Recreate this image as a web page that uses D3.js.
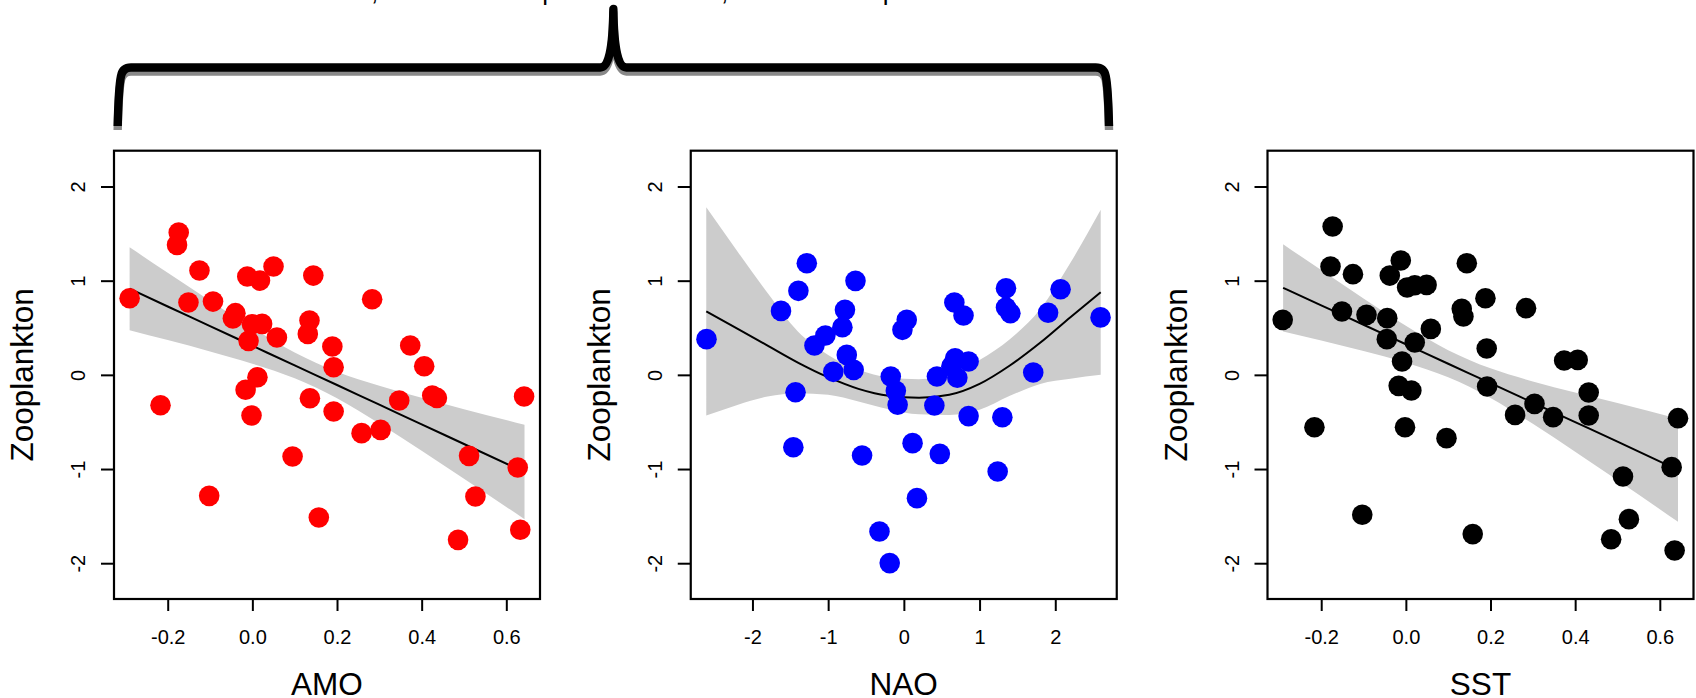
<!DOCTYPE html>
<html>
<head>
<meta charset="utf-8">
<script src="https://cdn.jsdelivr.net/npm/d3@7"></script>
<style>
  body { margin: 0; background: #fff; }
  svg { display: block; }
</style>
</head>
<body>
<script>
// ---- data ----
// AMO panel (red, linear fit)
const amoX = [-0.290, -0.217, -0.178, -0.174, -0.151, -0.125, -0.102, -0.093, -0.040, -0.046, -0.016, -0.012, -0.002, -0.009, -0.001, 0.012, 0.018, 0.023, 0.050, 0.058, 0.095, 0.131, 0.135, 0.136, 0.144, 0.157, 0.189, 0.192, 0.192, 0.258, 0.283, 0.303, 0.347, 0.373, 0.406, 0.425, 0.436, 0.486, 0.512, 0.527, 0.627, 0.633, 0.642];
const amoY = [0.814, -0.322, 1.380, 1.511, 0.768, 1.108, -1.285, 0.778, 0.655, 0.598, -0.159, 1.044, -0.432, 0.361, 0.538, -0.025, 1.001, 0.541, 1.150, 0.396, -0.867, 0.435, 0.577, -0.248, 1.054, -1.515, 0.301, 0.081, -0.389, -0.619, 0.803, -0.584, -0.272, 0.311, 0.092, -0.220, -0.245, -1.752, -0.860, -1.292, -0.984, -1.645, -0.230];
const amoFitX = [-0.29, -0.2, -0.1, 0, 0.1, 0.2, 0.3, 0.4, 0.5, 0.643];
const amoFit  = [0.914, 0.726, 0.518, 0.309, 0.100, -0.108, -0.317, -0.525, -0.734, -1.032];
const amoLo   = [0.474, 0.369, 0.249, 0.119, -0.037, -0.249, -0.517, -0.807, -1.104, -1.532];
const amoHi   = [1.354, 1.084, 0.787, 0.499, 0.237, 0.033, -0.117, -0.244, -0.364, -0.531];

// NAO panel (blue, smooth fit)
const naoX = [-2.607, -1.623, -1.460, -1.431, -1.393, -1.282, -1.181, -1.037, -0.932, -0.812, -0.778, -0.754, -0.663, -0.639, -0.552, -0.322, -0.187, -0.173, -0.106, -0.082, -0.019, 0.038, 0.115, 0.173, 0.403, 0.437, 0.475, 0.628, 0.667, 0.677, 0.706, 0.788, 0.855, 0.855, 1.239, 1.301, 1.349, 1.349, 1.407, 1.709, 1.905, 2.070, 2.598];
const naoY = [0.379, 0.679, -0.768, -0.184, 0.892, 1.185, 0.311, 0.418, 0.032, 0.506, 0.690, 0.212, 0.053, 0.998, -0.856, -1.663, -1.999, -0.018, -0.170, -0.318, 0.478, 0.584, -0.725, -1.309, -0.326, -0.018, -0.839, 0.090, 0.768, 0.177, -0.030, 0.630, 0.142, -0.438, -1.026, -0.450, 0.920, 0.715, 0.655, 0.025, 0.660, 0.909, 0.610];
const naoFitX = [-2.61, -2.2, -1.8, -1.4, -1.0, -0.6, -0.2, 0.2, 0.6, 1.0, 1.4, 1.8, 2.2, 2.6];
const naoFit  = [0.673, 0.492, 0.311, 0.131, -0.025, -0.149, -0.223, -0.244, -0.212, -0.096, 0.099, 0.340, 0.612, 0.878];
const naoLo   = [-0.432, -0.319, -0.230, -0.195, -0.212, -0.283, -0.364, -0.418, -0.425, -0.371, -0.223, -0.096, -0.042, 0.000];
const naoHi   = [1.780, 1.313, 0.868, 0.460, 0.212, 0.053, -0.028, -0.046, 0.011, 0.159, 0.379, 0.697, 1.190, 1.752];

// SST panel (black, linear fit)
const sstX = [-0.291, -0.216, -0.173, -0.178, -0.151, -0.125, -0.103, -0.093, -0.044, -0.045, -0.038, -0.017, -0.012, -0.009, -0.002, 0.003, 0.013, 0.021, 0.021, 0.049, 0.059, 0.096, 0.132, 0.136, 0.144, 0.158, 0.188, 0.191, 0.192, 0.258, 0.284, 0.304, 0.348, 0.374, 0.406, 0.432, 0.432, 0.485, 0.513, 0.527, 0.628, 0.635, 0.643];
const sstY = [0.584, -0.556, 1.575, 1.150, 0.672, 1.069, -1.486, 0.637, 0.602, 0.379, 1.054, -0.117, 1.214, 0.142, -0.556, 0.927, -0.166, 0.952, 0.343, 0.955, 0.488, -0.672, 0.701, 0.619, 1.185, -1.691, 0.814, 0.280, -0.124, -0.425, 0.708, -0.308, -0.449, 0.152, 0.159, -0.188, -0.432, -1.745, -1.079, -1.532, -0.980, -1.865, -0.460];
const sstFitX = [-0.29, -0.2, -0.1, 0, 0.1, 0.2, 0.3, 0.4, 0.5, 0.643];
const sstFit  = [0.924, 0.738, 0.532, 0.325, 0.118, -0.088, -0.295, -0.502, -0.709, -1.010];
const sstLo   = [0.461, 0.364, 0.252, 0.129, -0.026, -0.245, -0.520, -0.816, -1.119, -1.560];
const sstHi   = [1.387, 1.112, 0.812, 0.522, 0.262, 0.069, -0.070, -0.188, -0.299, -0.465];

// axes
const anomTicks = [-0.2, 0, 0.2, 0.4, 0.6];
const anomTickLabels = ["-0.2", "0.0", "0.2", "0.4", "0.6"];
const naoTicks = [-2, -1, 0, 1, 2];
const naoTickLabels = ["-2", "-1", "0", "1", "2"];
const yTicks = [-2, -1, 0, 1, 2];
const yTickLabels = ["-2", "-1", "0", "1", "2"];
const xTitles = ["AMO", "NAO", "SST"];
const yTitle = "Zooplankton";
const pointColors = ["#ff0000", "#0000ff", "#000000"];

// title, mostly above the top edge (only descenders show)
const titleParts = ["Two climate indices,", "both are independent", "drivers,", "and both important"];
const titleMarks = [",", "p", ",", "p"];

// ---- layout ----
const W = 1696, H = 698;
const font = '"Liberation Sans", Arial, Helvetica, sans-serif';
const boxW = 426, boxTop = 150.7, boxBottom = 599;
const firstLeft = 114, step = 576.75;

const svg = d3.select("body").append("svg")
  .attr("width", W)
  .attr("height", H)
  .style("font-family", font);

const y = d3.scaleLinear().domain([-2.38, 2.38]).range([boxBottom, boxTop]);

const panels = [
  { xs: amoX, ys: amoY, fx: amoFitX, fit: amoFit, lo: amoLo, hi: amoHi,
    dom: [-0.3269, 0.6796], ticks: anomTicks, labels: anomTickLabels },
  { xs: naoX, ys: naoY, fx: naoFitX, fit: naoFit, lo: naoLo, hi: naoHi,
    dom: [-2.815, 2.812], ticks: naoTicks, labels: naoTickLabels },
  { xs: sstX, ys: sstY, fx: sstFitX, fit: sstFit, lo: sstLo, hi: sstHi,
    dom: [-0.3269, 0.6796], ticks: anomTicks, labels: anomTickLabels }
];

panels.forEach((p, i) => {
  const left = firstLeft + i * step;
  const x = d3.scaleLinear().domain(p.dom).range([left, left + boxW]);
  const g = svg.append("g").attr("class", "panel");

  // confidence band
  const band = p.fx.map((d, k) => ({ x: d, lo: p.lo[k], hi: p.hi[k], f: p.fit[k] }));
  g.append("path")
    .datum(band)
    .attr("fill", "#cccccc")
    .attr("d", d3.area()
      .x(d => x(d.x))
      .y0(d => y(d.lo))
      .y1(d => y(d.hi))
      .curve(d3.curveMonotoneX));

  // fitted line
  g.append("path")
    .datum(band)
    .attr("fill", "none")
    .attr("stroke", "#000")
    .attr("stroke-width", 2)
    .attr("d", d3.line()
      .x(d => x(d.x))
      .y(d => y(d.f))
      .curve(d3.curveMonotoneX));

  // points
  g.append("g")
    .selectAll("circle")
    .data(p.xs.map((d, k) => [d, p.ys[k]]))
    .enter()
    .append("circle")
    .attr("cx", d => x(d[0]))
    .attr("cy", d => y(d[1]))
    .attr("r", 10.3)
    .attr("fill", pointColors[i]);

  // frame
  g.append("rect")
    .attr("x", left)
    .attr("y", boxTop)
    .attr("width", boxW)
    .attr("height", boxBottom - boxTop)
    .attr("fill", "none")
    .attr("stroke", "#000")
    .attr("stroke-width", 2.2);

  // x axis
  g.append("g")
    .attr("transform", "translate(0," + boxBottom + ")")
    .call(d3.axisBottom(x).tickValues(p.ticks).tickFormat((d, k) => p.labels[k]).tickSize(12))
    .call(a => a.select(".domain").remove())
    .attr("font-family", font)
    .attr("font-size", 20)
    .call(a => a.selectAll("line").attr("stroke-width", 2))
    .call(a => a.selectAll("text").attr("y", 45.3).attr("dy", null));

  // y axis, labels parallel to the axis
  g.append("g")
    .attr("transform", "translate(" + left + ",0)")
    .call(d3.axisLeft(y).tickValues(yTicks).tickFormat((d, k) => yTickLabels[k]).tickSize(13))
    .call(a => a.select(".domain").remove())
    .attr("font-family", font)
    .attr("font-size", 20)
    .call(a => a.selectAll("line").attr("stroke-width", 2))
    .call(a => a.selectAll("text")
      .attr("x", null).attr("dy", null)
      .attr("text-anchor", "middle")
      .attr("transform", "translate(-29,0) rotate(-90)"));

  // axis titles
  g.append("text")
    .attr("x", left + boxW / 2)
    .attr("y", 695)
    .attr("text-anchor", "middle")
    .style("font-size", "31.5px")
    .text(xTitles[i]);

  g.append("text")
    .attr("transform", "translate(" + (left - 80.7) + "," + ((boxTop + boxBottom) / 2) + ") rotate(-90)")
    .attr("text-anchor", "middle")
    .style("font-size", "31.5px")
    .text(yTitle);
});

// ---- brace over the first two panels ----
const bx0 = 117.7, bx1 = 1109, bMid = (bx0 + bx1) / 2, bY = 67.5, bLeg = 126, bTip = 9;
function bracePath() {
  const p = d3.path();
  p.moveTo(bx0, bLeg);
  p.bezierCurveTo(bx0 + 0.5, 105, bx0 + 1.6, 84, bx0 + 3.3, 76);
  p.bezierCurveTo(bx0 + 4.3, 71, bx0 + 7.3, bY, bx0 + 13.3, bY);
  p.lineTo(bMid - 13, bY);
  p.bezierCurveTo(bMid - 5, bY, bMid - 0.5, 50, bMid, bTip);
  p.bezierCurveTo(bMid + 0.5, 50, bMid + 5, bY, bMid + 13, bY);
  p.lineTo(bx1 - 13.3, bY);
  p.bezierCurveTo(bx1 - 7.3, bY, bx1 - 4.3, 71, bx1 - 3.3, 76);
  p.bezierCurveTo(bx1 - 1.6, 84, bx1 - 0.5, 105, bx1, bLeg);
  return p.toString();
}
[["#888888", 4], ["#000000", 0]].forEach(s => {
  svg.append("path")
    .attr("d", bracePath())
    .attr("transform", "translate(0," + s[1] + ")")
    .attr("fill", "none")
    .attr("stroke", s[0])
    .attr("stroke-width", 8.4)
    .attr("stroke-linejoin", "round")
    .attr("stroke-linecap", "butt");
});

// ---- title (cut off by the top edge) ----
const titleSize = 26;
const markX = [374, 545.3, 724, 885.7];
titleParts.forEach((t, i) => {
  const el = svg.append("text")
    .attr("x", 0)
    .attr("y", -0.5)
    .style("font-size", titleSize + "px")
    .text(t);
  const idx = t.lastIndexOf(titleMarks[i]);
  const ext = el.node().getExtentOfChar(idx);
  el.attr("x", markX[i] - ext.x - 0.115 * titleSize);
});
</script>
</body>
</html>
